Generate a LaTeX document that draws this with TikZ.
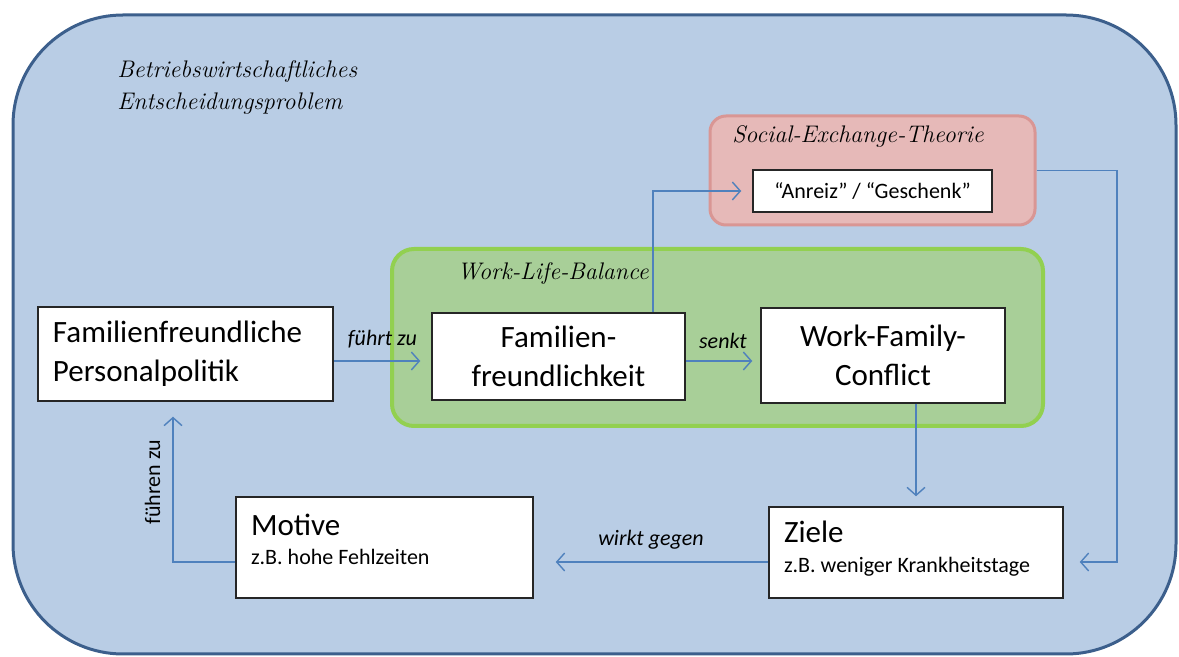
\documentclass[tikz,border=0pt]{standalone}
\usepackage{fontspec}
\newfontfamily\boxfont{Carlito}
\usetikzlibrary{arrows.meta}

\definecolor{bgblue}{HTML}{B9CDE5}
\definecolor{bgline}{HTML}{3C5F8C}
\definecolor{sefill}{HTML}{E6B9B8}
\definecolor{seline}{HTML}{D99694}
\definecolor{wlbfill}{HTML}{A8CF98}
\definecolor{wlbline}{HTML}{92D050}
\definecolor{linkblue}{HTML}{4F81BD}

\begin{document}
\begin{tikzpicture}[x=0.5pt, y=-0.5pt,
    main node/.style={rectangle, draw=black!85, line width=0.75pt, fill=white, inner sep=0pt,
      font=\boxfont\fontsize{15.5}{19.5}\selectfont},
    group/.style={rectangle, line width=1.5pt},
    title/.style={inner sep=0pt, font=\fontsize{12}{16}\selectfont\itshape},
    small/.style={font=\boxfont\fontsize{11}{13}\selectfont},
    lbl/.style={inner sep=6pt, font=\boxfont\fontsize{11}{13}\selectfont\itshape},
    link/.style={draw=linkblue, line width=0.7pt, -{Straight Barb[length=4pt,width=9pt]}}]

  \useasboundingbox (0,0) rectangle (1179,657);

  % containers
  \node[group, fill=bgblue, draw=bgline, rounded corners=55pt, minimum width=581.5pt, minimum height=319.5pt] (0) at (594.5,334.5) {};
  \node[title, anchor=north west, align=left] (t0) at (117,60) {Betriebswirtschaftliches\\Entscheidungsproblem};

  \node[group, fill=sefill, draw=seline, rounded corners=8pt, minimum width=162.5pt, minimum height=54.5pt] (se) at (872.5,170.5) {};
  \node[title, anchor=base] (t1) at (858,143) {Social-Exchange-Theorie};

  \node[group, fill=wlbfill, draw=wlbline, line width=2pt, rounded corners=11pt, minimum width=325.5pt, minimum height=88.5pt] (wlb) at (717.5,337.5) {};
  \node[title, anchor=base] (t2) at (553,280) {Work-Life-Balance};

  % boxes
  \node[main node, minimum width=147.5pt, minimum height=47pt, text width=132.5pt, align=flush left] (1) at (185.5,354) {Familienfreundliche\\Personalpolitik};
  \node[main node, minimum width=126.5pt, minimum height=43.5pt, align=center] (2) at (558.5,356.5) {Familien-\\freundlichkeit};
  \node[main node, minimum width=122pt, minimum height=47.5pt, align=center] (3) at (883,355.5) {Work-Family-\\Conflict};
  \node[main node, small, minimum width=119.5pt, minimum height=21pt] (4) at (872.5,191) {“Anreiz” / “Geschenk”};
  \node[main node, minimum width=148.5pt, minimum height=50.5pt, text width=133.5pt, align=flush left] (5) at (384.5,547.5) {Motive\\[-5pt]{\fontsize{11}{13}\selectfont z.B.\ hohe Fehlzeiten\rule[-8.5pt]{0pt}{8.5pt}}};
  \node[main node, minimum width=147pt, minimum height=45.5pt, text width=132pt, align=flush left] (6) at (916,552.5) {Ziele\\[-4.5pt]{\fontsize{11}{13}\selectfont z.B.\ weniger Krankheitstage\rule[-5.5pt]{0pt}{5.5pt}}};

  \coordinate (r) at (0,361);
  \coordinate (s) at (0,562);
  \coordinate (u) at (653,0);
  \coordinate (v) at (1117,562);
  \coordinate (w) at (173,0);

  \draw[link, shorten >=5.5pt] (1.east |- r) -- node[lbl, above] {führt zu} (2.west |- r);
  \draw[link, shorten >=4pt] (2.east |- r) -- node[lbl, above] {senkt} (3.west |- r);
  \draw[link, shorten >=5.5pt] (2.north -| u) |- (4.west);
  \draw[link, shorten >=8pt] (se.east) -| (v) -- (6.east |- s);
  \draw[link, shorten >=5pt] (6.north |- 3.south) -- (6.north);
  \draw[link, shorten >=11pt] (6.west |- s) -- node[lbl, above] {wirkt gegen} (5.east |- s);
  \draw[link, shorten >=7.5pt] (5.west |- s) -| node[small, inner sep=6pt, pos=0.75, rotate=90, anchor=south] {führen zu} (1.south -| w);

\end{tikzpicture}
\end{document}
